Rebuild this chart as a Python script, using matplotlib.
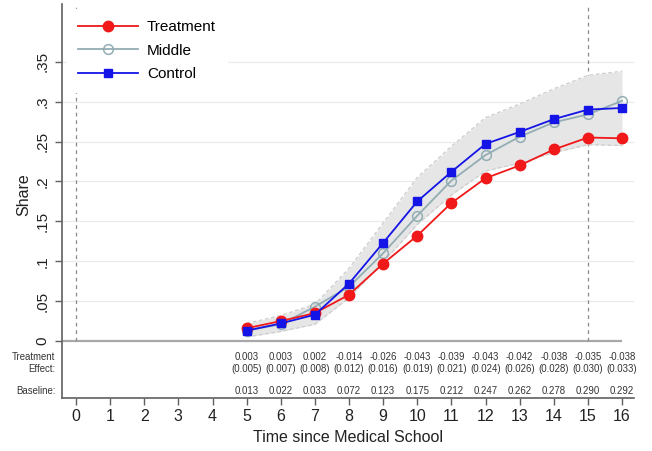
import matplotlib
matplotlib.use("Agg")
import matplotlib.pyplot as plt
import matplotlib.transforms as mtransforms

plt.rcParams["font.family"] = ["Liberation Sans", "DejaVu Sans"]

# Data
YEARS = [5, 6, 7, 8, 9, 10, 11, 12, 13, 14, 15, 16]
CONTROL = [0.013, 0.022, 0.033, 0.072, 0.123, 0.175, 0.212, 0.247, 0.262, 0.278, 0.290, 0.292]
TREATMENT = [0.016, 0.025, 0.035, 0.058, 0.097, 0.132, 0.173, 0.204, 0.220, 0.240, 0.255, 0.254]
MIDDLE = [0.013, 0.021, 0.043, 0.068, 0.110, 0.157, 0.201, 0.233, 0.256, 0.274, 0.284, 0.301]
BAND_HI = [0.022, 0.032, 0.046, 0.091, 0.148, 0.205, 0.244, 0.280, 0.297, 0.316, 0.333, 0.338]
BAND_LO = [0.005, 0.012, 0.021, 0.054, 0.099, 0.146, 0.183, 0.213, 0.223, 0.236, 0.246, 0.245]
EFFECT = ["0.003", "0.003", "0.002", "-0.014", "-0.026", "-0.043", "-0.039",
          "-0.043", "-0.042", "-0.038", "-0.035", "-0.038"]
EFFECT_SE = ["(0.005)", "(0.007)", "(0.008)", "(0.012)", "(0.016)", "(0.019)",
             "(0.021)", "(0.024)", "(0.026)", "(0.028)", "(0.030)", "(0.033)"]
BASELINE = ["0.013", "0.022", "0.033", "0.072", "0.123", "0.175", "0.212",
            "0.247", "0.262", "0.278", "0.290", "0.292"]
YTICKS = [0, 0.05, 0.1, 0.15, 0.2, 0.25, 0.3, 0.35]
YTICKLABELS = ["0", ".05", ".1", ".15", ".2", ".25", ".3", ".35"]
XTICKS = list(range(0, 17))

CLR_TREAT = "#f01818"
CLR_MID = "#92adb3"
CLR_CTRL = "#1414e6"
CLR_AXIS = "#606060"

fig = plt.figure(figsize=(6.52, 4.51), dpi=100)
ax = fig.add_axes([62 / 652, 1 - 398 / 451, 572 / 652, 394 / 451])
ax.set_xlim(-0.41, 16.35)
ax.set_ylim(-0.0714, 0.4223)

# gridlines (only over the plot part)
for yv in YTICKS[1:]:
    ax.axhline(yv, color="#ebebeb", lw=0.9, zorder=0.5)
ax.plot([-0.41, 16], [0, 0], color="#a8a8a8", lw=1.6, zorder=1, solid_capstyle="butt")

# reference lines
ax.plot([0, 0], [0, 0.4223], color="#8a8a8a", lw=0.9, ls=(0, (3, 3)), zorder=1.2)
ax.plot([15, 15], [0, 0.4223], color="#8a8a8a", lw=0.9, ls=(0, (3, 3)), zorder=1.2)

# confidence band
ax.fill_between(YEARS, BAND_LO, BAND_HI, color="#e6e6e6", lw=0, zorder=1.5)
ax.plot(YEARS, BAND_HI, color="#cdcdcd", lw=0.9, ls=(0, (3, 2)), zorder=1.6)
ax.plot(YEARS, BAND_LO, color="#cdcdcd", lw=0.9, ls=(0, (3, 2)), zorder=1.6)

ax.plot(YEARS, TREATMENT, color=CLR_TREAT, lw=1.3, marker="o", ms=7.5,
        mfc=CLR_TREAT, mec=CLR_TREAT, label="Treatment", zorder=4)
ax.plot(YEARS, MIDDLE, color=CLR_MID, lw=1.3, marker="o", ms=7,
        mfc="none", mec=CLR_MID, mew=1.1, label="Middle", zorder=3)
ax.plot(YEARS, CONTROL, color=CLR_CTRL, lw=1.3, marker="s", ms=6,
        mfc=CLR_CTRL, mec=CLR_CTRL, label="Control", zorder=5)

# table under the plot
TBL_FS = 6.9
for x, e, se, b in zip(YEARS, EFFECT, EFFECT_SE, BASELINE):
    ax.text(x, -0.0205, e, ha="center", va="center", fontsize=TBL_FS, color="#333")
    ax.text(x, -0.0355, se, ha="center", va="center", fontsize=TBL_FS, color="#333")
    ax.text(x, -0.0632, b, ha="center", va="center", fontsize=TBL_FS, color="#333")
trans = mtransforms.blended_transform_factory(ax.transAxes, ax.transData)
ax.text(-0.012, -0.0205, "Treatment", transform=trans, ha="right", va="center",
        fontsize=TBL_FS, color="#333", clip_on=False)
ax.text(-0.012, -0.0355, "Effect:", transform=trans, ha="right", va="center",
        fontsize=TBL_FS, color="#333", clip_on=False)
ax.text(-0.012, -0.0632, "Baseline:", transform=trans, ha="right", va="center",
        fontsize=TBL_FS, color="#333", clip_on=False)

# axes chrome
ax.set_xticks(XTICKS)
ax.set_xticklabels([str(t) for t in XTICKS])
ax.set_yticks(YTICKS)
ax.set_yticklabels(YTICKLABELS, rotation=90, va="center")
ax.tick_params(axis="both", direction="out", length=5, width=1.0,
               colors=CLR_AXIS, labelcolor="#222", labelsize=11)
ax.tick_params(axis="x", labelsize=11.5, pad=3)
ax.tick_params(axis="y", pad=4)
ax.set_xlabel("Time since Medical School", fontsize=11.5, color="#222", labelpad=4.5)
ax.set_ylabel("Share", fontsize=11.5, color="#222")
ax.yaxis.set_label_coords(-0.053, 0.515)
for side in ("top", "right"):
    ax.spines[side].set_visible(False)
for side in ("left", "bottom"):
    ax.spines[side].set_color(CLR_AXIS)
    ax.spines[side].set_linewidth(1.2)

leg = ax.legend(loc="upper left", bbox_to_anchor=(0.0, 1.0), fontsize=11,
                frameon=True, facecolor="white", edgecolor="white", framealpha=1,
                handlelength=3.9, labelspacing=0.62, borderpad=0.75,
                handletextpad=0.6, borderaxespad=0.3, fancybox=False)
leg.set_zorder(10)

fig.savefig("out.png", dpi=100, facecolor="white")
